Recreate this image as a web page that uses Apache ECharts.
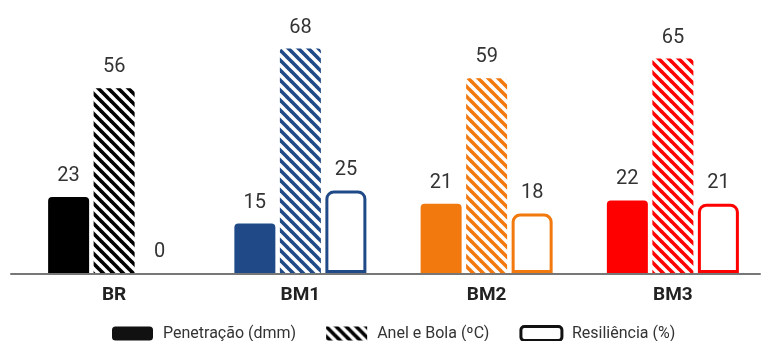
<!DOCTYPE html>
<html>
<head>
<meta charset="utf-8">
<script src="https://cdn.jsdelivr.net/npm/echarts@6/dist/echarts.min.js"></script>
<style>
html,body{margin:0;padding:0;background:#fff;}
#chart{width:766px;height:341px;}
</style>
</head>
<body>
<div id="chart"></div>
<script>
const categories = ['BR', 'BM1', 'BM2', 'BM3'];
const penetracao = [23, 15, 21, 22];
const anelBola = [56, 68, 59, 65];
const resiliencia = [0, 25, 18, 21];
const seriesNames = ['Penetração (dmm)', 'Anel e Bola (ºC)', 'Resiliência (%)'];
const groupColors = ['#000000', '#1f4a87', '#f2790e', '#ff0000'];

function stripes(color) {
  const s = 10;
  const c = document.createElement('canvas');
  c.width = s; c.height = s;
  const ctx = c.getContext('2d');
  ctx.fillStyle = '#ffffff';
  ctx.fillRect(0, 0, s, s);
  ctx.strokeStyle = color;
  ctx.lineWidth = 3.6;
  for (const k of [-s, 0, s]) {
    ctx.beginPath();
    ctx.moveTo(k - 3, -3);
    ctx.lineTo(k + s + 3, s + 3);
    ctx.stroke();
  }
  return { image: c, repeat: 'repeat' };
}

const FONT = 'Roboto';
const labelCfg = { show: true, position: 'top', distance: 11, fontSize: 20, color: '#333', fontFamily: FONT };

const chart = echarts.init(document.getElementById('chart'), null, { renderer: 'canvas' });
chart.setOption({
  animation: false,
  backgroundColor: '#ffffff',
  grid: [
    { left: 21, width: 750, top: 9, bottom: 68 },
    { left: 11, right: 6, top: 9, bottom: 67 }
  ],
  legend: {
    left: 107, top: 320,
    itemWidth: 41, itemHeight: 14, itemGap: 30,
    textStyle: { fontSize: 16, color: '#333', fontFamily: FONT, padding: [0, 0, 0, 5] },
    data: [
      { name: seriesNames[0], icon: 'roundRect', itemStyle: { color: '#111' } },
      { name: seriesNames[1], icon: 'rect', itemStyle: { color: stripes('#000') } },
      { name: seriesNames[2], icon: 'roundRect', itemStyle: { color: '#fff', borderColor: '#111', borderWidth: 3 } }
    ]
  },
  xAxis: [
    {
      type: 'category', data: categories, gridIndex: 0,
      axisLine: { show: false }, axisTick: { show: false },
      axisLabel: { fontSize: 19, fontWeight: 'bold', color: '#222', fontFamily: FONT, margin: 13 }
    },
    {
      type: 'value', gridIndex: 1, min: 0, max: 1,
      axisLine: { show: true, lineStyle: { color: '#777', width: 2 } },
      axisTick: { show: false }, axisLabel: { show: false }, splitLine: { show: false }
    }
  ],
  yAxis: [
    { type: 'value', min: 0, max: 80, gridIndex: 0, show: false, splitLine: { show: false } },
    { type: 'value', gridIndex: 1, show: false, splitLine: { show: false } }
  ],
  series: [
    {
      name: seriesNames[0], type: 'bar', barWidth: 41, barGap: '11%',
      itemStyle: { color: '#111', borderRadius: [4, 4, 0, 0] },
      label: labelCfg,
      data: penetracao.map((v, i) => ({ value: v, itemStyle: { color: groupColors[i] } }))
    },
    {
      name: seriesNames[1], type: 'bar', barWidth: 41, barGap: '11%',
      itemStyle: { color: stripes('#000'), borderRadius: [3, 3, 0, 0] },
      label: labelCfg,
      data: anelBola.map((v, i) => ({ value: v, itemStyle: { color: stripes(groupColors[i]) } }))
    },
    {
      name: seriesNames[2], type: 'bar', barWidth: 41, barGap: '11%',
      itemStyle: { color: '#fff', borderColor: '#111', borderWidth: 3, borderRadius: [7, 7, 0, 0] },
      label: labelCfg,
      data: resiliencia.map((v, i) => ({
        value: v,
        itemStyle: { color: '#fff', borderColor: groupColors[i], borderWidth: v === 0 ? 0 : 3 }
      }))
    }
  ]
});
</script>
</body>
</html>
